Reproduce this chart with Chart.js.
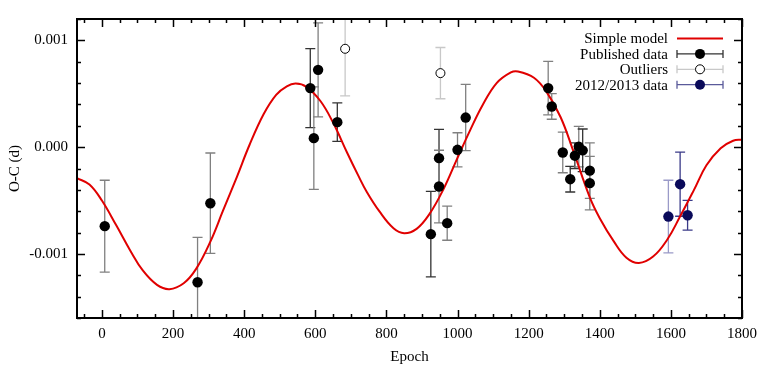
<!DOCTYPE html>
<html>
<head>
<meta charset="utf-8">
<script src="https://cdn.jsdelivr.net/npm/chart.js@4.4.1/dist/chart.umd.min.js"></script>
<style>
  html, body { margin: 0; padding: 0; background: #fff; }
</style>
</head>
<body>
<canvas id="ocChart" width="772" height="373"></canvas>
<script>
// model curve
const modelEpoch = [-70, -35, 0, 40, 80, 115, 155, 190, 230, 265, 305, 340, 380, 415, 455, 490, 520, 545, 575, 615,
  650, 690, 720, 745, 780, 820, 850, 885, 920, 960, 1000, 1035, 1070, 1110, 1150, 1170, 1215, 1250, 1290, 1325,
  1372, 1400, 1440, 1475, 1510, 1550, 1590, 1625, 1665, 1700, 1740, 1775, 1800];
const modelOC = [-0.00029, -0.00035, -0.0005, -0.00073, -0.00097, -0.001155, -0.00129, -0.00133, -0.001275, -0.00114,
  -0.000885, -0.0006, -0.000275, 0.00002, 0.00031, 0.00049, 0.00057, 0.000595, 0.000565, 0.00043,
  0.00023, -0.000055, -0.00026, -0.00042, -0.0006, -0.00076, -0.000806, -0.000765, -0.000632, -0.000397,
  -0.0001, 0.000155, 0.00039, 0.0006, 0.0007, 0.000709, 0.00065, 0.00052, 0.00028, -0.00003,
  -0.00047, -0.000665, -0.000885, -0.001035, -0.001085, -0.001025, -0.000865, -0.000655, -0.0004, -0.00017,
  -0.00001, 0.00006, 0.00007];

// published timings
const pubEpoch = [8, 269, 305, 586, 596, 608, 662, 925, 948, 948, 971, 1000, 1023, 1255, 1265, 1296, 1317, 1330, 1341, 1352, 1372, 1372];
const pubOC = [-0.00074, -0.001265, -0.000525, 0.000553, 0.000084, 0.000724, 0.000234, -0.000815, -0.000103, -0.000369,
  -0.000712, -0.000025, 0.000277, 0.000553, 0.000381, -0.00005, -0.0003, -0.00008, 0.000005, -0.00003, -0.00022, -0.000337];
const pubErr = [0.00043, 0.00042, 0.00047, 0.00037, 0.00048, 0.00044, 0.00018, 0.0004, 0.00027, 0.00034,
  0.00016, 0.00016, 0.00031, 0.00025, 0.00012, 0.00019, 0.00012, 0.00012, 0.00019, 0.0002, 0.00026, 0.00025];

// outliers
const outEpoch = [684, 952];
const outOC = [0.000921, 0.000693];
const outErr = [0.00044, 0.00024];

// 2012/2013 data
const newEpoch = [1593, 1626, 1647];
const newOC = [-0.00065, -0.000347, -0.000638];
const newErr = [0.00034, 0.0003, 0.00014];

const xTickLabels = [0, 200, 400, 600, 800, 1000, 1200, 1400, 1600, 1800];
const yTickLabels = [-0.001, 0, 0.001];

const serif = "'Liberation Serif', 'DejaVu Serif', serif";
const pts = (xs, ys) => xs.map((x, i) => ({ x, y: ys[i] }));

const pubShade = pubEpoch.map((_, i) => ([3, 6, 7, 8, 16, 17, 19].includes(i) ? "#333333" : "#808080"));

const errorBars = {
  id: "errorBars",
  beforeDatasetsDraw(chart) {
    const { ctx, chartArea, scales } = chart;
    ctx.save();
    ctx.beginPath();
    ctx.rect(chartArea.left, chartArea.top, chartArea.width, chartArea.height);
    ctx.clip();
    chart.data.datasets.forEach((ds) => {
      if (!ds.errs) return;
      ds.data.forEach((p, i) => {
        const x = scales.x.getPixelForValue(p.x);
        const y1 = scales.y.getPixelForValue(p.y + ds.errs[i]);
        const y2 = scales.y.getPixelForValue(p.y - ds.errs[i]);
        ctx.strokeStyle = Array.isArray(ds.errColor) ? ds.errColor[i] : ds.errColor;
        ctx.lineWidth = 1.3;
        ctx.beginPath();
        ctx.moveTo(x, y1); ctx.lineTo(x, y2);
        ctx.moveTo(x - 5, y1); ctx.lineTo(x + 5, y1);
        ctx.moveTo(x - 5, y2); ctx.lineTo(x + 5, y2);
        ctx.stroke();
      });
    });
    ctx.restore();
  },
};

// gnuplot-like frame with inward ticks on all four sides
const frame = {
  id: "frame",
  afterDraw(chart) {
    const { ctx, chartArea: a, scales } = chart;
    ctx.save();
    ctx.strokeStyle = "#000";
    ctx.lineWidth = 1.5;
    ctx.beginPath();
    for (let v = -50; v <= 1800; v += 50) {
      const x = Math.round(scales.x.getPixelForValue(v)) + 0.5;
      const len = v % 200 === 0 ? 8 : 4;
      ctx.moveTo(x, a.bottom); ctx.lineTo(x, a.bottom - len);
      ctx.moveTo(x, a.top); ctx.lineTo(x, a.top + len);
    }
    for (let k = -8; k <= 6; k++) {
      const y = Math.round(scales.y.getPixelForValue(k * 0.0002)) + 0.5;
      const len = k % 5 === 0 ? 8 : 4;
      ctx.moveTo(a.left, y); ctx.lineTo(a.left + len, y);
      ctx.moveTo(a.right, y); ctx.lineTo(a.right - len, y);
    }
    ctx.stroke();
    ctx.lineWidth = 2;
    ctx.strokeRect(a.left, a.top, a.width, a.height);

    // key
    const rows = [
      { text: "Simple model", kind: "line", color: "#e00000" },
      { text: "Published data", kind: "bar", color: "#333333", dot: "#000" },
      { text: "Outliers", kind: "bar", color: "#c8c8c8", dot: "open" },
      { text: "2012/2013 data", kind: "bar", color: "#5a5a9a", dot: "#0a0a5a" },
    ];
    ctx.font = "15px " + serif;
    ctx.textAlign = "right";
    ctx.textBaseline = "middle";
    rows.forEach((r, i) => {
      const y = 38.5 + i * 15.4;
      ctx.fillStyle = "#000";
      ctx.fillText(r.text, 668, y + 1);
      const x1 = 677, x2 = 723, xm = 700;
      ctx.strokeStyle = r.color;
      ctx.lineWidth = r.kind === "line" ? 2 : 1.3;
      ctx.beginPath();
      ctx.moveTo(x1, y); ctx.lineTo(x2, y);
      if (r.kind === "bar") {
        ctx.moveTo(x1, y - 4); ctx.lineTo(x1, y + 4);
        ctx.moveTo(x2, y - 4); ctx.lineTo(x2, y + 4);
      }
      ctx.stroke();
      if (r.dot) {
        ctx.beginPath();
        if (r.dot === "open") {
          ctx.arc(xm, y, 4.5, 0, Math.PI * 2);
          ctx.fillStyle = "#fff";
          ctx.fill();
          ctx.strokeStyle = "#000";
          ctx.lineWidth = 1;
          ctx.stroke();
        } else {
          ctx.arc(xm, y, 5, 0, Math.PI * 2);
          ctx.fillStyle = r.dot;
          ctx.fill();
        }
      }
    });
    ctx.restore();
  },
};

new Chart(document.getElementById("ocChart"), {
  type: "scatter",
  data: {
    datasets: [
      {
        type: "line",
        label: "Simple model",
        data: pts(modelEpoch, modelOC),
        borderColor: "#e00000",
        borderWidth: 2,
        pointRadius: 0,
        tension: 0.4,
        order: 5,
      },
      {
        label: "Published data",
        data: pts(pubEpoch, pubOC),
        errs: pubErr,
        errColor: pubShade,
        backgroundColor: "#000",
        borderWidth: 0,
        pointRadius: 5.2,
        order: 1,
      },
      {
        label: "Outliers",
        data: pts(outEpoch, outOC),
        errs: outErr,
        errColor: "#c8c8c8",
        backgroundColor: "#fff",
        borderColor: "#000",
        borderWidth: 1,
        pointRadius: 4.5,
        order: 1,
      },
      {
        label: "2012/2013 data",
        data: pts(newEpoch, newOC),
        errs: newErr,
        errColor: ["#9a9ac8", "#3a3a88", "#3a3a88"],
        backgroundColor: "#0a0a5a",
        borderWidth: 0,
        pointRadius: 5.2,
        order: 1,
      },
    ],
  },
  options: {
    responsive: false,
    animation: false,
    layout: { padding: { left: 0, right: 30, top: 19, bottom: 0 } },
    plugins: { legend: { display: false }, tooltip: { enabled: false } },
    scales: {
      x: {
        type: "linear",
        min: -70,
        max: 1800,
        grid: { display: false, drawTicks: false },
        border: { display: false },
        afterBuildTicks(scale) {
          scale.ticks = xTickLabels.map((v) => ({ value: v }));
        },
        afterFit(scale) {
          scale.height = 55;
        },
        ticks: {
          autoSkip: false,
          maxRotation: 0,
          padding: 7,
          color: "#000",
          font: { family: serif, size: 15 },
          callback: (v) => String(v),
        },
        title: {
          display: true,
          text: "Epoch",
          color: "#000",
          font: { family: serif, size: 15 },
          padding: { top: 0, bottom: 7 },
        },
      },
      y: {
        min: -0.0016,
        max: 0.0012,
        grid: { display: false, drawTicks: false },
        border: { display: false },
        afterBuildTicks(scale) {
          scale.ticks = yTickLabels.map((v) => ({ value: v }));
        },
        afterFit(scale) {
          scale.width = 77;
        },
        ticks: {
          padding: 9,
          color: "#000",
          font: { family: serif, size: 15 },
          callback: (v) => v.toFixed(3),
        },
        title: {
          display: true,
          text: "O-C (d)",
          color: "#000",
          font: { family: serif, size: 15 },
          padding: { top: 6, bottom: 0 },
        },
      },
    },
  },
  plugins: [errorBars, frame],
});
</script>
</body>
</html>
